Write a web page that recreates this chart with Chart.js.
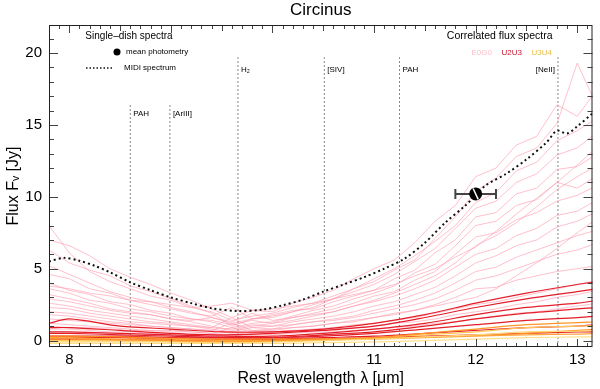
<!DOCTYPE html>
<html><head><meta charset="utf-8">
<script src="https://cdn.jsdelivr.net/npm/chart.js@4/dist/chart.umd.min.js"></script>
<style>html,body{margin:0;padding:0;background:#fff}</style>
</head><body>
<canvas id="c" width="600" height="389"></canvas>
<script>
// ---------------- data ----------------
const wavelengths = [7.8, 8.0, 8.2, 8.4, 8.6, 8.8, 9.0, 9.2, 9.4, 9.6, 9.8, 10.0, 10.2, 10.4, 10.6, 10.8, 11.0, 11.2, 11.4, 11.6, 11.8, 12.0, 12.2, 12.4, 12.6, 12.8, 13.0, 13.2];
const pinkSpectra = [
  [8.0, 6.1, 4.8, 4.1, 3.6, 3.1, 2.8, 2.3, 2.0, 1.4, 1.7, 1.9, 2.3, 2.6, 3.1, 3.6, 4.3, 5.0, 5.9, 6.9, 8.0, 9.6, 10.3, 11.8, 12.4, 13.9, 14.6, 15.5],
  [7.0, 6.6, 5.9, 5.0, 4.4, 3.9, 3.3, 2.8, 2.2, 1.6, 2.1, 2.0, 2.6, 3.0, 3.5, 4.3, 5.0, 5.6, 6.8, 8.3, 9.4, 11.4, 12.0, 13.6, 14.2, 16.4, 15.6, 17.5],
  [6.3, 5.4, 4.9, 4.5, 3.8, 3.4, 2.9, 2.4, 1.9, 1.0, 1.5, 1.6, 2.0, 2.5, 2.9, 3.6, 4.1, 4.9, 5.6, 7.1, 8.6, 10.4, 11.3, 12.8, 13.4, 15.1, 19.3, 16.2],
  [5.2, 4.6, 4.0, 3.4, 3.0, 2.7, 2.3, 2.0, 1.6, 1.2, 1.5, 1.7, 2.0, 2.3, 2.9, 3.4, 3.9, 4.6, 5.5, 6.4, 7.8, 9.2, 9.7, 11.0, 11.6, 12.9, 13.4, 14.5],
  [4.6, 4.3, 3.6, 3.3, 2.8, 2.5, 2.2, 1.9, 1.7, 2.3, 1.5, 1.8, 2.1, 2.2, 2.7, 3.1, 3.5, 4.3, 4.9, 6.1, 7.0, 8.6, 8.9, 10.2, 10.6, 11.9, 12.1, 13.0],
  [4.0, 3.5, 3.2, 2.7, 2.5, 2.1, 1.9, 1.5, 1.3, 0.9, 1.2, 1.3, 1.7, 2.1, 2.4, 2.9, 3.3, 3.8, 4.7, 5.3, 6.6, 8.0, 8.3, 9.4, 9.8, 11.0, 10.6, 11.5],
  [3.6, 3.3, 2.8, 2.6, 2.2, 2.0, 1.7, 1.5, 1.4, 1.1, 1.4, 1.2, 1.6, 1.9, 2.2, 2.6, 3.1, 3.4, 4.2, 4.8, 6.0, 7.2, 7.5, 8.4, 8.9, 9.7, 10.1, 10.8],
  [3.2, 2.9, 2.6, 2.2, 2.0, 1.8, 1.5, 1.3, 1.0, 0.7, 1.0, 1.2, 1.4, 1.7, 2.0, 2.4, 2.8, 3.3, 3.9, 4.5, 5.4, 6.6, 7.3, 8.2, 9.3, 10.5, 11.4, 12.2],
  [2.9, 2.7, 2.4, 2.1, 1.9, 1.8, 1.5, 1.4, 1.6, 1.3, 1.9, 1.4, 1.6, 1.8, 2.0, 2.4, 2.7, 3.1, 3.6, 4.2, 5.1, 6.0, 6.4, 7.3, 7.8, 8.7, 9.0, 9.8],
  [2.6, 2.4, 2.1, 1.9, 1.7, 1.5, 1.3, 1.1, 0.9, 0.8, 1.1, 1.0, 1.3, 1.5, 1.7, 2.0, 2.4, 2.7, 3.2, 3.7, 4.5, 5.4, 5.9, 6.6, 7.0, 7.9, 8.3, 9.0],
  [2.3, 2.2, 1.9, 1.7, 1.5, 1.3, 1.2, 1.0, 0.8, 0.6, 0.9, 0.8, 1.1, 1.3, 1.5, 1.7, 2.1, 2.4, 2.8, 3.3, 4.0, 4.8, 5.1, 5.8, 6.3, 6.8, 7.3, 7.7],
  [2.0, 1.9, 1.7, 1.5, 1.3, 1.2, 1.1, 1.0, 0.9, 1.6, 0.9, 1.0, 1.1, 1.3, 1.4, 1.6, 1.9, 2.2, 2.5, 2.9, 3.5, 4.2, 4.5, 5.0, 5.5, 6.0, 6.3, 6.8],
  [1.8, 1.7, 1.5, 1.3, 1.2, 1.0, 0.9, 0.8, 0.7, 0.5, 0.7, 0.7, 0.9, 1.0, 1.2, 1.4, 1.6, 1.9, 2.1, 2.5, 3.0, 3.6, 3.7, 4.2, 4.5, 4.8, 5.0, 5.2],
  [1.5, 1.4, 1.3, 1.2, 1.1, 1.0, 0.9, 0.8, 0.7, 1.2, 0.7, 0.8, 0.9, 1.0, 1.2, 1.3, 1.6, 1.8, 2.1, 2.4, 2.7, 3.0, 3.6, 4.5, 5.4, 6.4, 7.5, 8.5],
  [1.2, 1.1, 1.0, 0.9, 0.8, 0.7, 0.7, 0.6, 0.5, 0.4, 0.6, 0.6, 0.7, 0.8, 0.9, 1.1, 1.2, 1.4, 1.6, 1.9, 2.2, 2.5, 2.7, 3.0, 3.3, 3.6, 3.9, 4.2],
  [1.0, 0.9, 0.9, 0.8, 0.7, 0.7, 0.6, 0.6, 0.5, 0.9, 0.6, 0.6, 0.7, 0.7, 0.8, 0.9, 1.0, 1.2, 1.3, 1.5, 1.8, 2.0, 2.2, 2.5, 2.7, 3.0, 3.2, 3.5],
  [0.8, 0.8, 0.7, 0.6, 0.6, 0.5, 0.5, 0.4, 0.4, 0.3, 0.5, 0.4, 0.5, 0.6, 0.6, 0.7, 0.8, 0.9, 1.0, 1.2, 1.3, 1.5, 1.7, 1.9, 2.0, 2.2, 2.4, 2.6],
  [3.8, 3.6, 3.3, 3.1, 2.8, 2.7, 2.5, 2.3, 2.4, 2.6, 2.1, 2.2, 2.4, 2.6, 2.9, 3.2, 3.5, 3.9, 4.5, 5.0, 5.8, 6.5, 7.6, 8.8, 9.9, 11.0, 12.2, 13.5]
];
const smoothWavelengths = [7.8, 8.0, 8.5, 9.0, 9.5, 10.0, 10.5, 11.0, 11.5, 12.0, 12.5, 13.0, 13.2];
const redSpectra = [
  [1.2, 1.5, 1.0, 0.8, 0.6, 0.6, 0.8, 1.2, 1.8, 2.6, 3.3, 3.9, 4.1],
  [0.9, 0.9, 0.7, 0.5, 0.4, 0.5, 0.7, 1.0, 1.6, 2.3, 2.9, 3.4, 3.6],
  [0.6, 0.6, 0.5, 0.4, 0.3, 0.3, 0.5, 0.8, 1.2, 1.8, 2.3, 2.6, 2.8],
  [0.5, 0.5, 0.4, 0.3, 0.2, 0.2, 0.4, 0.6, 1.0, 1.5, 1.9, 2.2, 2.3],
  [0.3, 0.3, 0.3, 0.2, 0.2, 0.2, 0.3, 0.5, 0.8, 1.1, 1.4, 1.6, 1.7],
  [0.2, 0.2, 0.2, 0.1, 0.1, 0.1, 0.2, 0.3, 0.5, 0.7, 0.9, 1.0, 1.1],
  [0.1, 0.1, 0.05, 0.05, 0.0, 0.05, 0.1, 0.2, 0.3, 0.4, 0.5, 0.6, 0.6]
];
const yellowSpectra = [
  [0.1, 0.1, 0.05, 0.0, -0.05, 0.0, 0.1, 0.2, 0.5, 0.8, 1.1, 1.25, 1.3],
  [0.0, 0.0, 0.0, -0.05, -0.1, -0.05, 0.05, 0.2, 0.4, 0.6, 0.9, 1.0, 1.05],
  [-0.1, -0.1, -0.1, -0.1, -0.15, -0.1, 0.0, 0.1, 0.25, 0.4, 0.6, 0.65, 0.7],
  [0.2, 0.2, 0.1, 0.1, 0.0, 0.0, 0.05, 0.1, 0.2, 0.3, 0.4, 0.45, 0.5],
  [-0.2, -0.2, -0.2, -0.2, -0.2, -0.2, -0.15, -0.1, 0.0, 0.1, 0.2, 0.25, 0.25],
  [0.3, 0.3, 0.25, 0.15, 0.1, 0.1, 0.1, 0.15, 0.25, 0.35, 0.5, 0.7, 0.8]
];
const yellowColors = ['rgb(255,150,40)', 'rgb(255,200,90)', 'rgb(255,215,120)', 'rgb(255,165,60)', 'rgb(255,225,140)', 'rgb(255,140,30)'];
const midiWavelengths = [7.8, 7.95, 8.1, 8.25, 8.4, 8.6, 8.8, 9.0, 9.2, 9.4, 9.66, 9.9, 10.1, 10.3, 10.5, 10.7, 10.9, 11.1, 11.3, 11.5, 11.7, 11.9, 12.0, 12.1, 12.3, 12.5, 12.7, 12.8, 12.9, 13.0, 13.15];
const midiFlux = [5.5, 5.75, 5.55, 5.2, 4.75, 4.05, 3.5, 3.0, 2.6, 2.25, 2.05, 2.15, 2.45, 2.85, 3.4, 3.9, 4.4, 5.0, 5.7, 6.8, 8.2, 9.4, 10.1, 10.8, 11.6, 12.6, 13.8, 14.6, 14.4, 14.9, 15.8];
const photWavelength = [12.0];
const photFlux = [10.2];
const photWavelengthErr = [0.2];
const lineWavelengths = [8.6, 8.99, 9.66, 10.51, 11.25, 12.81];
const lineLabels = ['PAH', '[ArIII]', 'H\u2082', '[SIV]', 'PAH', '[NeII]'];
const lineTops = [16.4, 16.4, 19.7, 19.7, 19.7, 19.7];
const lineLabelFlux = [15.8, 15.8, 18.8, 18.8, 18.8, 18.8];
const baselineNames = ['E0G0', 'U2U3', 'U3U4'];
const baselineColors = ['rgb(255,190,200)', 'rgb(200,20,45)', 'rgb(235,190,70)'];
const xRange = [7.8, 13.15];
const yRange = [-0.45, 21.95];

// ---------------- build ----------------
const FONT = '"Liberation Sans", Arial, Helvetica, sans-serif';
const pts = (xs, ys) => xs.map((x, i) => ({x: x, y: ys[i]}));
const datasets = [];
// white slash drawn over the photometry marker
datasets.push({data: pts(photWavelength, photFlux), showLine: false, pointStyle: 'line', pointRotation: 65, pointRadius: 6, pointBorderColor: '#fff', pointBorderWidth: 1.5});
datasets.push({data: pts(photWavelength, photFlux), showLine: false, pointRadius: 6.5, pointBackgroundColor: '#000', pointBorderColor: '#000', pointBorderWidth: 0});
photWavelength.forEach((w, i) => {
  datasets.push({data: [{x: w - photWavelengthErr[i], y: photFlux[i]}, {x: w + photWavelengthErr[i], y: photFlux[i]}],
    borderColor: '#444', borderWidth: 2, pointStyle: 'line', pointRotation: 90, pointRadius: 5, pointBorderWidth: 2, pointBorderColor: '#444'});
});
datasets.push({data: pts(midiWavelengths, midiFlux), borderColor: '#111', borderWidth: 2, borderDash: [2, 3], pointRadius: 0, tension: 0.3});
yellowSpectra.forEach((s, i) => datasets.push({data: pts(smoothWavelengths, s), borderColor: yellowColors[i], borderWidth: 1.2, pointRadius: 0, tension: 0.3}));
redSpectra.forEach(s => datasets.push({data: pts(smoothWavelengths, s), borderColor: 'rgb(228,30,40)', borderWidth: 1.2, pointRadius: 0, tension: 0.3}));
pinkSpectra.forEach(s => datasets.push({data: pts(wavelengths, s), borderColor: 'rgba(255,150,170,0.6)', borderWidth: 1, pointRadius: 0}));
lineWavelengths.forEach((w, i) => datasets.push({data: [{x: w, y: yRange[0]}, {x: w, y: lineTops[i]}], borderColor: '#888', borderWidth: 1, borderDash: [2, 2], pointRadius: 0}));

const decor = {
  id: 'decor',
  afterDraw(chart) {
    const {ctx, chartArea: a, scales: {x, y}} = chart;
    ctx.save();
    ctx.fillStyle = '#000';
    ctx.font = '8px ' + FONT;
    ctx.textBaseline = 'middle';
    lineWavelengths.forEach((w, i) => {
      const px = x.getPixelForValue(w), py = y.getPixelForValue(lineLabelFlux[i]);
      if (i === lineWavelengths.length - 1) { ctx.textAlign = 'right'; ctx.fillText(lineLabels[i], px - 3, py); }
      else { ctx.textAlign = 'left'; ctx.fillText(lineLabels[i], px + 3, py); }
    });
    ctx.strokeStyle = '#444';
    ctx.lineWidth = 1;
    ctx.beginPath();
    for (let k = Math.ceil(xRange[0] * 10); k <= Math.floor(xRange[1] * 10); k++) {
      const v = k / 10, px = Math.round(x.getPixelForValue(v)) + 0.5;
      const len = (k % 10 === 0) ? 8 : (k % 5 === 0 ? 6 : 4);
      ctx.moveTo(px, a.bottom); ctx.lineTo(px, a.bottom - len);
      ctx.moveTo(px, a.top); ctx.lineTo(px, a.top + len);
    }
    for (let k = Math.ceil(yRange[0]); k <= Math.floor(yRange[1]); k++) {
      const py = Math.round(y.getPixelForValue(k)) + 0.5;
      const len = (k % 5 === 0) ? 9 : 5;
      ctx.moveTo(a.left, py); ctx.lineTo(a.left + len, py);
      ctx.moveTo(a.right, py); ctx.lineTo(a.right - len, py);
    }
    ctx.stroke();
    ctx.strokeStyle = '#222';
    ctx.strokeRect(a.left + 0.5, a.top + 0.5, a.right - a.left - 1, a.bottom - a.top - 1);
    ctx.fillStyle = '#000';
    ctx.textAlign = 'center';
    ctx.font = '10px ' + FONT;
    ctx.fillText('Single\u2013dish spectra', a.left + 80, a.top + 11);
    ctx.beginPath(); ctx.arc(a.left + 68, a.top + 27, 3.5, 0, Math.PI * 2); ctx.fill();
    ctx.textAlign = 'left';
    ctx.font = '8px ' + FONT;
    ctx.fillText('mean photometry', a.left + 77, a.top + 27);
    ctx.fillText('MIDI spectrum', a.left + 75, a.top + 43);
    ctx.strokeStyle = '#111'; ctx.lineWidth = 1.5; ctx.setLineDash([1.5, 2]);
    ctx.beginPath(); ctx.moveTo(a.left + 37, a.top + 43); ctx.lineTo(a.left + 64, a.top + 43); ctx.stroke();
    ctx.setLineDash([]);
    ctx.textAlign = 'right';
    ctx.font = '10.5px ' + FONT;
    ctx.fillText('Correlated flux spectra', a.right - 40, a.top + 11);
    ctx.font = '8px ' + FONT;
    ctx.textAlign = 'left';
    let bx = a.right - 121;
    baselineNames.forEach((n, i) => { ctx.fillStyle = baselineColors[i]; ctx.fillText(n, bx, a.top + 28); bx += 30; });
    ctx.restore();
  }
};

new Chart(document.getElementById('c'), {
  type: 'line',
  data: {datasets: datasets},
  options: {
    responsive: false, animation: false, events: [],
    layout: {padding: {left: 0, right: 2, top: 0, bottom: 0}},
    plugins: {
      legend: {display: false}, tooltip: {enabled: false},
      title: {display: true, text: 'Circinus', fullSize: false, color: '#000', font: {family: FONT, size: 17, weight: 'normal'}, padding: {top: 0, bottom: 4.6}}
    },
    scales: {
      x: {type: 'linear', min: xRange[0], max: xRange[1],
        grid: {display: false, drawTicks: false}, border: {display: false},
        ticks: {stepSize: 1, includeBounds: false, color: '#000', font: {family: FONT, size: 15}, padding: 4, maxRotation: 0, autoSkip: false},
        title: {display: true, text: 'Rest wavelength \u03bb [\u03bcm]', color: '#000', font: {family: FONT, size: 16}, padding: {top: 0, bottom: 1}},
        afterFit: s => { s.height = 42; }},
      y: {type: 'linear', min: yRange[0], max: yRange[1],
        grid: {display: false, drawTicks: false}, border: {display: false},
        ticks: {stepSize: 5, includeBounds: false, color: '#000', font: {family: FONT, size: 15}, padding: 7},
        title: {display: true, text: 'Flux F\u1d65 [Jy]', color: '#000', font: {family: FONT, size: 16}, padding: {top: 4, bottom: 0}},
        afterFit: s => { s.width = 49; }}
    }
  },
  plugins: [decor]
});
</script>
</body></html>
